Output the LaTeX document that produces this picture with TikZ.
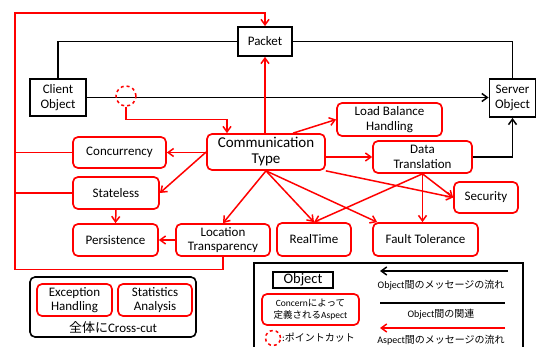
\documentclass[tikz,border=0pt]{standalone}
\usepackage{fontspec}
\setmainfont{Carlito}
\newfontfamily\jpfont{Noto Sans CJK JP}
\usetikzlibrary{arrows.meta}

\begin{document}
\begin{tikzpicture}[x=1pt, y=-1pt,
            obj/.style={draw=black, line width=1.8pt, fill=white, align=center, inner sep=0pt, font=\fontsize{13}{15}\selectfont},
            asp/.style={draw=red, line width=1.7pt, rounded corners=5pt, fill=white, align=center, inner sep=0pt, font=\fontsize{13}{14.5}\selectfont},
            rline/.style={draw=red, line width=1.5pt},
            amsg/.style={rline, -{Straight Barb[length=5.5pt,width=8pt]}},
            rel/.style={draw=black, line width=1.5pt},
            msg/.style={rel, -{Straight Barb[length=5.5pt,width=8pt]}},
            cut/.style={circle, draw=red, dashed, line width=1.5pt, inner sep=0pt},
            note/.style={inner sep=0pt, font=\fontsize{10}{11}\selectfont}]

            \useasboundingbox (0,0) rectangle (537,347);

            \node[obj, minimum width=54pt, minimum height=29pt] (packet) at (265,41.5) {Packet};
            \node[obj, minimum width=56pt, minimum height=37pt] (client) at (58,97.5) {Client\\Object};
            \node[obj, minimum width=46pt, minimum height=38pt] (server) at (512.5,98) {Server\\Object};

            \node[asp, minimum width=118pt, minimum height=36pt, font=\fontsize{15}{16}\selectfont] (comm) at (266,152) {Communication\\Type};
            \node[asp, minimum width=105pt, minimum height=33pt] (lbh) at (389.5,119.5) {Load Balance\\Handling};
            \node[asp, minimum width=99pt, minimum height=32pt] (dt) at (422.5,157) {Data\\Translation};
            \node[asp, minimum width=93pt, minimum height=31pt] (conc) at (119.5,152.5) {Concurrency};
            \node[asp, minimum width=86pt, minimum height=32pt] (stateless) at (116,193) {Stateless};
            \node[asp, minimum width=85pt, minimum height=32pt] (persist) at (115.5,240) {Persistence};
            \node[asp, minimum width=94pt, minimum height=32pt] (loc) at (223,240) {Location\\Transparency};
            \node[asp, minimum width=74pt, minimum height=33pt] (realtime) at (314,239.5) {RealTime};
            \node[asp, minimum width=105pt, minimum height=33pt] (fault) at (425.5,239.5) {Fault Tolerance};
            \node[asp, minimum width=64pt, minimum height=31pt] (security) at (486,197.5) {Security};

            \draw[rel] (client.north) |- (packet.west);
            \draw[rel] (packet.east) -| (server.north);
            \draw[msg] (client.east) -- (client.east -| server.west);
            \draw[msg] (dt.east) -| (server.south);

            \node[cut, minimum size=20pt] (pc) at (126,96) {};
            \draw[amsg] (pc.south) -- ++(0,13) -| ([xshift=-39pt]comm.north);

            \coordinate (lb) at (15,269.5);
            \coordinate (lt) at (15,13);
            \draw[amsg] (loc.south) |- (lb) -- (lt) -| (packet.north);
            \draw[rline] (conc.west) -- (conc.west -| lt);
            \draw[rline] (stateless.west) -- (stateless.west -| lt);

            \draw[amsg] (comm.north -| packet.south) -- (packet.south);
            \draw[amsg] ([xshift=27pt]comm.north) -- (lbh.west);
            \draw[amsg] (comm.east |- dt.west) -- (dt.west);
            \draw[amsg] (comm.west |- conc.east) -- (conc.east);
            \draw[amsg] (comm.west) -- (stateless.east);
            \draw[amsg] (comm.south) -- (loc.north);
            \draw[amsg] (comm.south) -- (realtime.north);
            \draw[amsg] (comm.south) -- ([xshift=5pt]fault.north west);
            \draw[amsg] (comm.south east) -- (security.west);
            \draw[amsg] (dt.south) -- (realtime.north);
            \draw[amsg] (dt.south) -- (dt.south |- fault.north);
            \draw[amsg] (dt.south) -- (security.west);
            \draw[amsg] (stateless.south) -- (persist.north);
            \draw[amsg] (loc.west) -- (persist.east);

            \node[draw=black, line width=1.6pt, rounded corners=5pt, minimum width=166pt, minimum height=60pt] (crosscut) at (113,307) {};
            \node[asp, minimum width=75pt, minimum height=32pt] (exc) at (74.5,300) {Exception\\Handling};
            \node[asp, minimum width=74pt, minimum height=32pt] (stat) at (155,300) {Statistics\\Analysis};
            \node[inner sep=0pt, font=\fontsize{13}{14}\selectfont] (crosstext) at (113,328) {{\jpfont 全体に}Cross-cut};

            \draw[rel, line width=1.6pt] (254,263) rectangle (523,352);
            \node[obj, minimum width=60pt, minimum height=16pt, font=\fontsize{14.5}{15}\selectfont] (objlegend) at (303,280) {Object};
            \node[asp, minimum width=97pt, minimum height=31pt, font=\fontsize{9.5}{12}\selectfont] (asplegend) at (310.5,309.5) {Concern{\jpfont によって}\\{\jpfont 定義される}Aspect};
            \node[cut, minimum size=15pt] (pclegend) at (273,338) {};
            \node[note, anchor=west] (pctext) at (282,338) {:{\jpfont ポイントカット}};

            \coordinate (m1r) at (508,271);
            \coordinate (m1l) at (380,271);
            \draw[msg] (m1r) -- (m1l);
            \node[note] (m1text) at (441,285) {Object{\jpfont 間のメッセージの流れ}};

            \coordinate (r1l) at (380,303);
            \coordinate (r1r) at (505,303);
            \draw[rel] (r1l) -- (r1r);
            \node[note] (r1text) at (441,314) {Object{\jpfont 間の関連}};

            \coordinate (a1r) at (505,328);
            \coordinate (a1l) at (380,328);
            \draw[amsg] (a1r) -- (a1l);
            \node[note] (a1text) at (441,340) {Aspect{\jpfont 間のメッセージの流れ}};

            \end{tikzpicture}
\end{document}
